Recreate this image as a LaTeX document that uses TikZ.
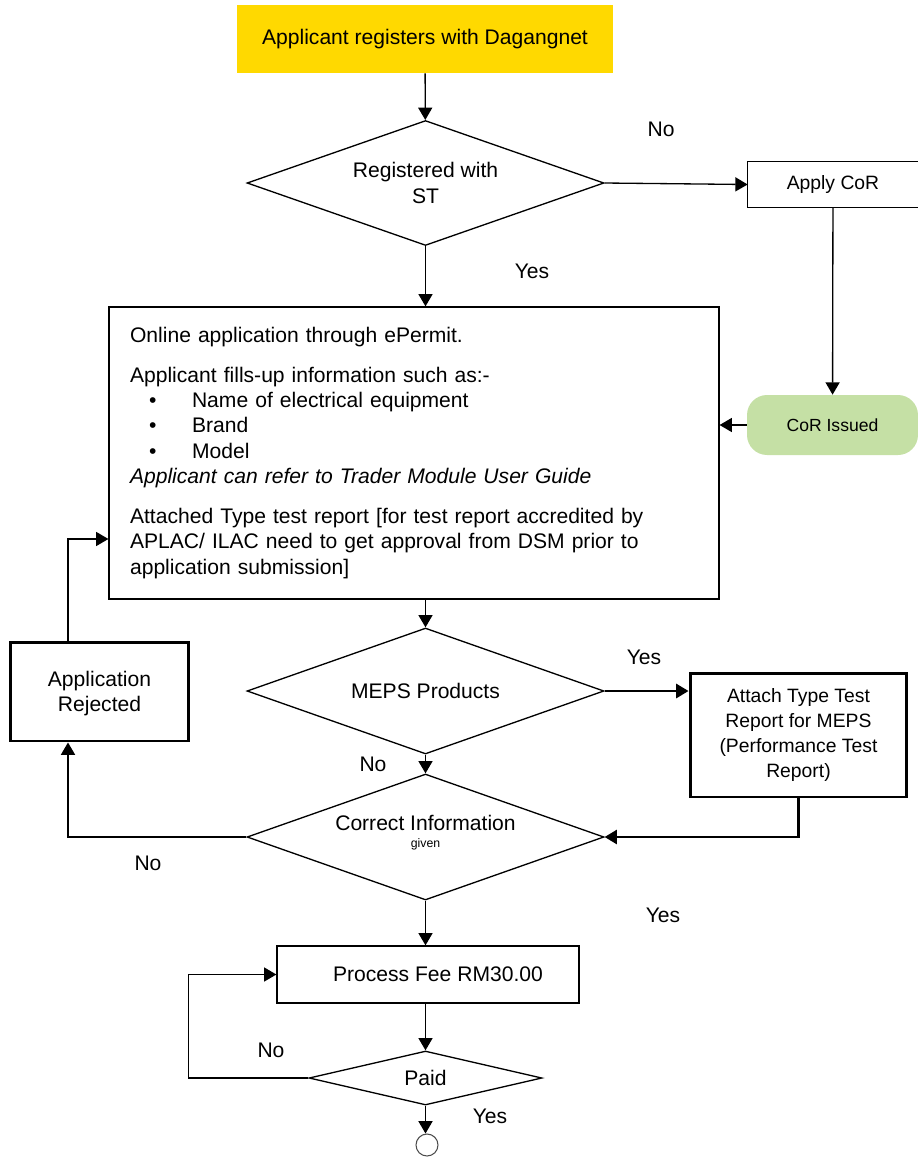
\documentclass[tikz,border=0pt]{standalone}
\usepackage{fontspec}
\setmainfont{Liberation Sans}
\usepackage{tikz}
\usetikzlibrary{positioning,shapes.geometric,arrows.meta}
\definecolor{startyellow}{RGB}{255,217,0}
\definecolor{issuedgreen}{RGB}{197,224,165}
\newcommand{\bigfont}{\fontsize{12}{14.5}\selectfont}
\newcommand{\midfont}{\fontsize{11}{14.4}\selectfont}
\newcommand{\bulletline}[1]{\hspace*{0.38cm}\makebox[0.86cm][l]{\textbullet}#1}

\tikzset{
  box/.style = {rectangle, draw, line width=0.75pt, font=\bigfont, align=center, inner sep=0pt},
  heavybox/.style = {rectangle, draw, line width=1.7pt, align=center, inner sep=0pt},
  decision/.style = {diamond, draw, line width=0.75pt, font=\bigfont, align=center, inner sep=0pt},
  lbl/.style = {font=\bigfont, inner sep=0pt},
  arr/.style = {-{Triangle[length=7pt,width=8pt]}, line width=0.75pt},
  heavyarr/.style = {-{Triangle[length=7pt,width=8pt]}, line width=1.4pt}
}

\begin{document}
\begin{tikzpicture}[x=0.02cm, y=-0.02cm]
        \useasboundingbox (0,0) rectangle (918,1157);

        \node[rectangle, fill=startyellow, minimum width=7.52cm, minimum height=1.36cm, font=\bigfont] (register) at (425,39) {Applicant registers with Dagangnet};
        \node[decision, minimum width=7.14cm, minimum height=2.5cm, aspect=2.86] (registered) at (425.5,183) {Registered with\\ST};
        \node[rectangle, minimum width=3.4cm, minimum height=0.9cm, font=\midfont] (applycor) at (833,184.5) {Apply CoR};
        \node[rectangle, rounded corners=0.4cm, fill=issuedgreen, minimum width=3.42cm, minimum height=1.2cm, font=\fontsize{10}{12}\selectfont] (corissued) at (832.5,425) {CoR Issued};
        \node[box, minimum width=12.2cm, minimum height=5.84cm, text width=11.36cm, inner xsep=0.42cm, align=left] (online) at (414,453) {Online application through ePermit.\\[0.28cm]
Applicant fills-up information such as:-\\
\bulletline{Name of electrical equipment}\\
\bulletline{Brand}\\
\bulletline{Model}\\
\textit{Applicant can refer to Trader Module User Guide}\\[0.28cm]
Attached Type test report [for test report accredited by\\
APLAC/ ILAC need to get approval from DSM prior to\\
application submission]};
        \node[decision, minimum width=7.14cm, minimum height=2.52cm, aspect=2.83] (meps) at (425.5,691) {MEPS Products};
        \node[heavybox, minimum width=4.34cm, minimum height=2.48cm, font=\midfont] (attach) at (798.5,735) {Attach Type Test\\Report for MEPS\\(Performance Test\\Report)};
        \node[heavybox, minimum width=3.58cm, minimum height=1.98cm, font=\bigfont, text depth=0pt] (rejected) at (99.5,691.5) {Application\\Rejected};
        \node[decision, minimum width=7.14cm, minimum height=2.52cm, aspect=2.83] (correct) at (425.5,837) {Correct Information\\[-0.18cm]{\fontsize{7}{8}\selectfont given\rule[-0.22cm]{0pt}{0pt}}};
        \node[box, minimum width=6.04cm, minimum height=1.14cm] (fee) at (428,974.5) {\hspace*{0.4cm}Process Fee RM30.00};
        \node[decision, minimum width=4.66cm, minimum height=1.08cm, aspect=4.3] (paid) at (425.5,1078) {Paid};
        \node[circle, draw=black!70, line width=0.6pt, minimum size=0.44cm, inner sep=0pt] (finish) at (427,1145) {};

        \coordinate (backx) at (68,0);

        \node[lbl] (nocor) at (661,129) {No};
        \node[lbl] (yesst) at (532,271) {Yes};
        \node[lbl] (yesmeps) at (644,657) {Yes};
        \node[lbl] (nomeps) at (373,764) {No};
        \node[lbl] (noinfo) at (148,863) {No};
        \node[lbl] (yesinfo) at (663,915) {Yes};
        \node[lbl] (nopaid) at (271,1050) {No};
        \node[lbl] (yespaid) at (490,1116) {Yes};

        \draw[line width=0.75pt] (applycor.north east) -- (applycor.north west) -- (applycor.south west) -- (applycor.south east);

        \draw (register) edge[arr] (registered);
        \draw (registered.east) edge[arr] (applycor.west);
        \draw (applycor) edge[arr] (corissued);
        \draw (corissued.west) edge[arr] (corissued.west -| online.east);
        \draw (registered.south) edge[arr] (registered.south |- online.north);
        \draw (meps.north |- online.south) edge[arr] (meps.north);
        \draw (meps.east) edge[heavyarr] (meps.east -| attach.west);
        \draw (meps.south) edge[arr] (correct.north);
        \draw[heavyarr] (attach.south) |- (correct.east);
        \draw[arr] (correct.west) -| (rejected.south -| backx);
        \draw[arr] (rejected.north -| backx) |- ([yshift=-1.72cm]online.west);
        \draw (correct.south) edge[arr] (correct.south |- fee.north);
        \draw (paid.north |- fee.south) edge[arr] (paid.north);
        \draw[arr] (paid.west) -- ++(-120,0) |- (fee.west);
        \draw (paid.south) edge[arr] (paid.south |- finish.north);
      \end{tikzpicture}
\end{document}
